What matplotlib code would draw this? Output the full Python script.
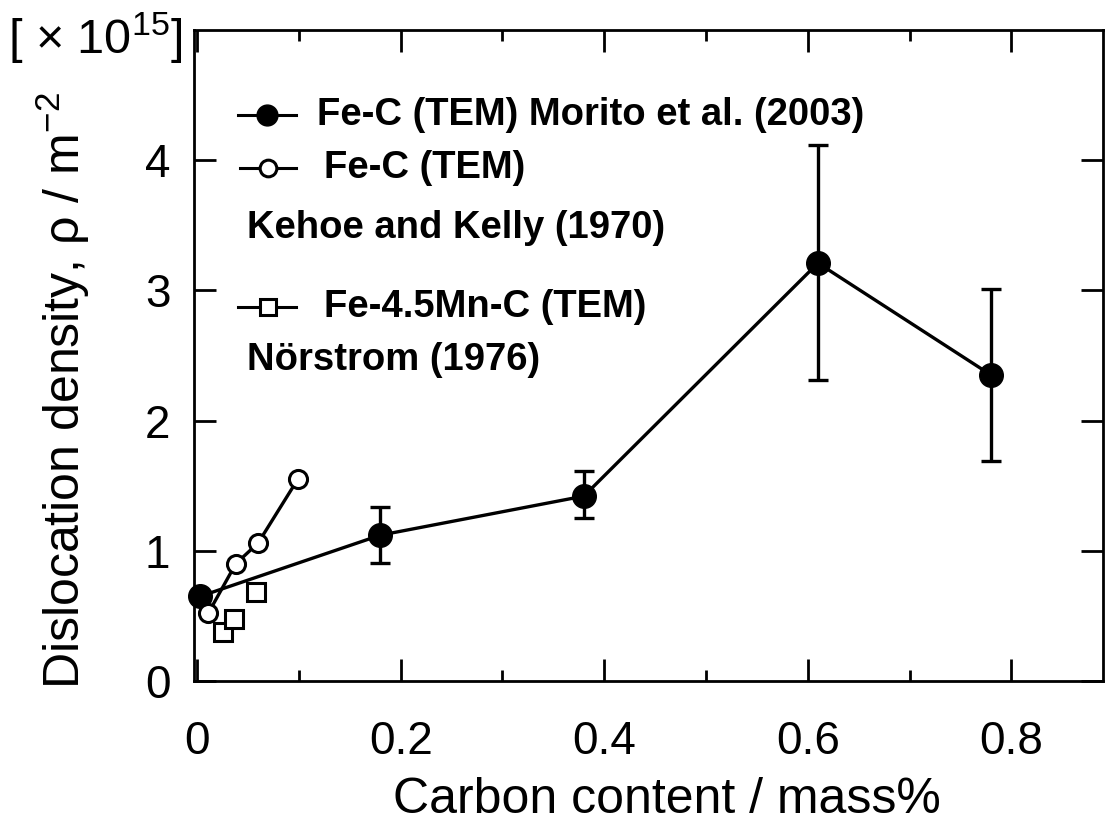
import matplotlib
matplotlib.use("Agg")
import matplotlib.pyplot as plt
from matplotlib.lines import Line2D
from matplotlib.ticker import MultipleLocator

W, H = 1107, 822

# Fe-C (TEM) Morito et al. (2003)
morito_c = [0.003, 0.18, 0.38, 0.61, 0.78]
morito_rho = [0.65, 1.12, 1.42, 3.21, 2.35]
morito_lo = [0.65, 0.91, 1.25, 2.31, 1.69]
morito_hi = [0.65, 1.34, 1.61, 4.12, 3.01]

# Fe-C (TEM) Kehoe and Kelly (1970)
kehoe_c = [0.011, 0.038, 0.060, 0.099]
kehoe_rho = [0.52, 0.90, 1.06, 1.55]

# Fe-4.5Mn-C (TEM) Norstrom (1976)
norstrom_c = [0.025, 0.036, 0.058]
norstrom_rho = [0.38, 0.48, 0.68]

xticks = [0, 0.2, 0.4, 0.6, 0.8]
xticklabels = ["0", "0.2", "0.4", "0.6", "0.8"]
yticks = [0, 1, 2, 3, 4]

plt.rcParams["font.family"] = ["Liberation Sans", "DejaVu Sans"]
plt.rcParams["mathtext.fontset"] = "custom"
plt.rcParams["mathtext.rm"] = "Liberation Sans"
plt.rcParams["mathtext.default"] = "regular"


def fx(px):
    return px / W


def fy(py):
    return 1 - py / H


fig = plt.figure(figsize=(W / 100, H / 100), dpi=100)
ax = fig.add_axes([fx(194), fy(681), fx(1103) - fx(194), fy(30) - fy(681)])

lw = 2.4
yerr = [[r - l for r, l in zip(morito_rho, morito_lo)],
        [h - r for r, h in zip(morito_rho, morito_hi)]]
ax.errorbar(morito_c, morito_rho, yerr=yerr, color="black", lw=lw, elinewidth=lw,
            capsize=7, capthick=lw, marker="o", ms=17, mfc="black", mec="black",
            zorder=3, clip_on=False)
ax.plot(kehoe_c, kehoe_rho, color="black", lw=lw, marker="o", ms=13,
        mfc="white", mec="black", mew=2.2, zorder=4, clip_on=False)
ax.plot(norstrom_c, norstrom_rho, ls="none", marker="s", ms=13,
        mfc="white", mec="black", mew=2.2, zorder=4, clip_on=False)

ax.set_xlim(-0.003, 0.89)
ax.set_ylim(0, 5)
ax.set_xticks(xticks)
ax.set_xticklabels(xticklabels)
ax.xaxis.set_minor_locator(MultipleLocator(0.1))
ax.set_yticks(yticks)
ax.tick_params(which="major", direction="in", length=16, width=2,
               top=True, right=True, labelsize=33)
ax.tick_params(which="minor", direction="in", length=8, width=2,
               top=True, bottom=True)
ax.tick_params(axis="x", pad=28)
ax.tick_params(axis="y", pad=17)
for sp in ax.spines.values():
    sp.set_linewidth(2)

ax.set_xlabel("Carbon content / mass%", fontsize=36)
ax.xaxis.set_label_coords(0.52, -0.148)
ax.set_ylabel("Dislocation density, ρ / m$^{-2}$", fontsize=36)
ax.yaxis.set_label_coords(-0.112, 0.447)
fig.text(fx(8), fy(38), "[ × 10$^{15}$]", fontsize=35,
         ha="left", va="center")

# legend, drawn by hand like the original figure
fig.add_artist(Line2D([fx(238), fx(296)], [fy(115), fy(115)], transform=fig.transFigure,
                      color="black", lw=2.2))
fig.add_artist(Line2D([fx(267)], [fy(115)], transform=fig.transFigure, ls="none",
                      marker="o", ms=15, mfc="black", mec="black"))
fig.add_artist(Line2D([fx(240), fx(296)], [fy(168), fy(168)], transform=fig.transFigure,
                      color="black", lw=2.2))
fig.add_artist(Line2D([fx(268)], [fy(168)], transform=fig.transFigure, ls="none",
                      marker="o", ms=12, mfc="white", mec="black", mew=2.2))
fig.add_artist(Line2D([fx(238), fx(296)], [fy(307), fy(307)], transform=fig.transFigure,
                      color="black", lw=2.2))
fig.add_artist(Line2D([fx(268)], [fy(307)], transform=fig.transFigure, ls="none",
                      marker="s", ms=12, mfc="white", mec="black", mew=2.2))

legend_texts = [
    (317, 115, "Fe-C (TEM) Morito et al. (2003)"),
    (324, 168, "Fe-C (TEM)"),
    (247, 228, "Kehoe and Kelly (1970)"),
    (324, 307, "Fe-4.5Mn-C (TEM)"),
    (247, 360, "Nörstrom (1976)"),
]
for x, y, s in legend_texts:
    fig.text(fx(x), fy(y), s, fontsize=27.5, fontweight="bold",
             ha="left", va="center")

fig.savefig("out.png", dpi=100)
